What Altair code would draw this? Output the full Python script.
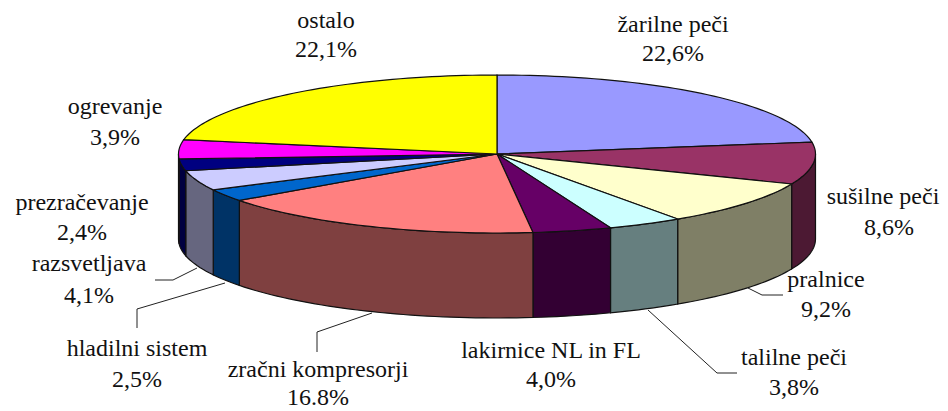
import math
import altair as alt
import pandas as pd

categories = ["žarilne peči", "sušilne peči", "pralnice", "talilne peči", "lakirnice NL in FL",
              "zračni kompresorji", "hladilni sistem", "razsvetljava", "prezračevanje", "ogrevanje", "ostalo"]
shares = [22.6, 8.6, 9.2, 3.8, 4.0, 16.8, 2.5, 4.1, 2.4, 3.9, 22.1]
share_labels = ["22,6%", "8,6%", "9,2%", "3,8%", "4,0%", "16.8%", "2,5%", "4,1%", "2,4%", "3,9%", "22,1%"]
top_colors = ["#9999FF", "#993366", "#FFFFCC", "#CCFFFF", "#660066", "#FF8080",
              "#0066CC", "#CCCCFF", "#000080", "#FF00FF", "#FFFF00"]
wall_colors = ["#4C4C7F", "#4C1933", "#7F7F66", "#667F7F", "#330033", "#7F4040",
               "#003366", "#66667F", "#000040", "#7F007F", "#7F7F00"]

# image-space layout of the pie and labels
CX, CY, RX, RY, DEPTH = 497, 154, 318.5, 79, 85
label_x = [673, 883, 826, 794, 551, 318, 137, 89, 82, 115, 326]
label_y = [25, 197, 280, 358, 351, 370, 349, 264, 203, 107, 21]
value_x = [673, 889, 826, 794, 551, 318, 137, 89, 82, 115, 326]
value_y = [54, 228, 310, 388, 380, 398, 380, 296, 233, 138, 50]
leaders = {
    "razsvetljava": [(155, 280), (173, 280), (197, 268)],
    "hladilni": [(137, 328), (137, 309), (225, 283)],
    "zracni": [(317, 352), (317, 332), (372, 313)],
    "pralnice": [(783, 295), (762, 295), (748, 288)],
    "talilne": [(737, 373), (717, 373), (648, 310)],
}


def rim(t0, t1, dy=0.0):
    n = max(2, int(abs(t1 - t0) / 1.5) + 2)
    pts = []
    for i in range(n):
        t = math.radians(t0 + (t1 - t0) * i / (n - 1))
        pts.append([CX + RX * math.sin(t), CY - RY * math.cos(t) + dy])
    return pts


def feature(ring, color):
    return {"type": "Feature", "properties": {"fill": color},
            "geometry": {"type": "Polygon", "coordinates": [ring + [ring[0]]]}}


tops, walls = [], []
start = 0.0
for share, top, wall in zip(shares, top_colors, wall_colors):
    t0 = start * 3.6
    t1 = (start + share) * 3.6
    start += share
    tops.append(feature([[CX, CY]] + rim(t0, t1), top))
    a, b = max(t0, 90.0), min(t1, 270.0)
    if b > a:
        walls.append(feature(rim(a, b) + rim(b, a, DEPTH), wall))

W, H = 932, 403
color = alt.Color("properties.fill:N", scale=None)

wall_layer = alt.Chart(alt.Data(values=walls)).mark_geoshape(
    stroke="#111111", strokeWidth=1.2).encode(color=color).project(type="identity", scale=1, translate=[-8, -8])
top_layer = alt.Chart(alt.Data(values=tops)).mark_geoshape(
    stroke="#111111", strokeWidth=1.2).encode(color=color).project(type="identity", scale=1, translate=[-8, -8])

xs = alt.Scale(domain=[8, 8 + W], range=[0, W])
ys = alt.Scale(domain=[8, 8 + H], range=[0, H])

rows = []
for name, x, y1, vx, y2, val in zip(categories, label_x, label_y, value_x, value_y, share_labels):
    rows.append({"x": x, "y": y1, "t": name})
    rows.append({"x": vx, "y": y2, "t": val})
text_layer = alt.Chart(pd.DataFrame(rows)).mark_text(
    font="Liberation Serif", fontSize=24, color="#111111", align="center", baseline="middle"
).encode(x=alt.X("x:Q", scale=xs, axis=None), y=alt.Y("y:Q", scale=ys, axis=None), text="t:N")

lrows = []
for key, pts in leaders.items():
    for i, (x, y) in enumerate(pts):
        lrows.append({"k": key, "i": i, "x": x, "y": y})
line_layer = alt.Chart(pd.DataFrame(lrows)).mark_line(color="#222222", strokeWidth=1).encode(
    x=alt.X("x:Q", scale=xs, axis=None), y=alt.Y("y:Q", scale=ys, axis=None),
    detail="k:N", order="i:Q")

chart = alt.layer(wall_layer, top_layer, line_layer, text_layer).properties(
    width=W, height=H, padding=0, autosize=alt.AutoSizeParams(type="none"), background="white"
).configure_view(stroke=None)

chart.save("out.html", embed_options={"renderer": "svg", "actions": False})
